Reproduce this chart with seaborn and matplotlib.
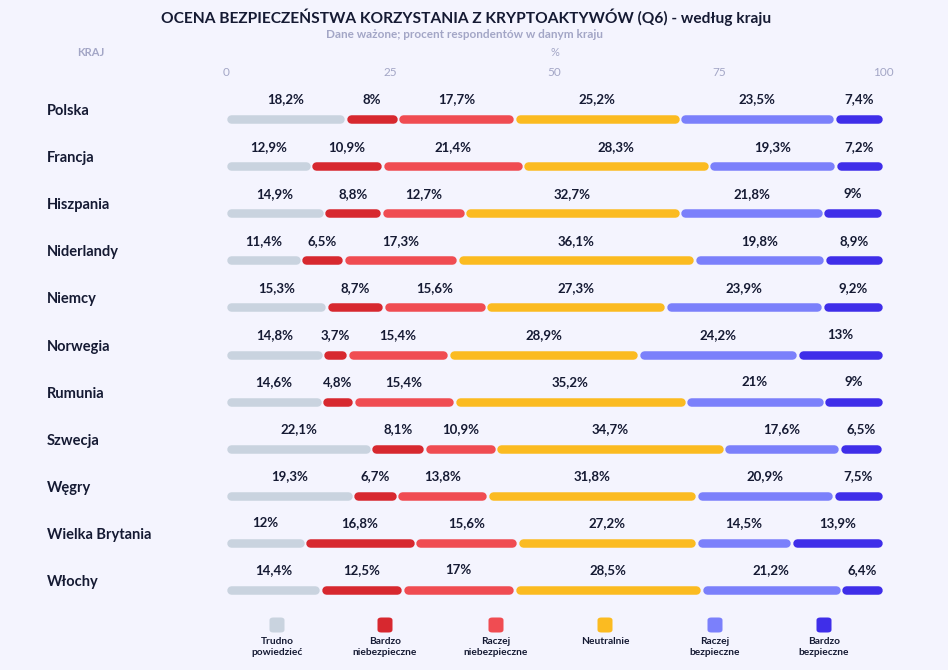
import numpy as np
import seaborn as sns
import matplotlib.pyplot as plt
from matplotlib.patches import FancyBboxPatch
from matplotlib.transforms import blended_transform_factory

countries = ["Polska", "Francja", "Hiszpania", "Niderlandy", "Niemcy", "Norwegia",
             "Rumunia", "Szwecja", "Węgry", "Wielka Brytania", "Włochy"]
categories = ["Trudno\npowiedzieć", "Bardzo\nniebezpieczne", "Raczej\nniebezpieczne",
              "Neutralnie", "Raczej\nbezpieczne", "Bardzo\nbezpieczne"]
trudno = [18.2, 12.9, 14.9, 11.4, 15.3, 14.8, 14.6, 22.1, 19.3, 12.0, 14.4]
b_niebezp = [8.0, 10.9, 8.8, 6.5, 8.7, 3.7, 4.8, 8.1, 6.7, 16.8, 12.5]
r_niebezp = [17.7, 21.4, 12.7, 17.3, 15.6, 15.4, 15.4, 10.9, 13.8, 15.6, 17.0]
neutralnie = [25.2, 28.3, 32.7, 36.1, 27.3, 28.9, 35.2, 34.7, 31.8, 27.2, 28.5]
r_bezp = [23.5, 19.3, 21.8, 19.8, 23.9, 24.2, 21.0, 17.6, 20.9, 14.5, 21.2]
b_bezp = [7.4, 7.2, 9.0, 8.9, 9.2, 13.0, 9.0, 6.5, 7.5, 13.9, 6.4]
ticks = [0, 25, 50, 75, 100]

colors = ["#c9d3df", "#d7282f", "#f04c52", "#fbbb21", "#7b80fb", "#3f2ee9"]
bg = "#f4f4fe"
dark = "#151a33"
muted = "#a3a6c6"

sns.set_theme(style="white")
plt.rcParams["font.family"] = ["Lato", "DejaVu Sans"]

series = np.array([trudno, b_niebezp, r_niebezp, neutralnie, r_bezp, b_bezp])
starts = np.vstack([np.zeros(len(countries)), np.cumsum(series, axis=0)[:-1]])

W, H = 948, 670
fig = plt.figure(figsize=(W / 100, H / 100), dpi=100, facecolor=bg)
# axes: x 0..100 -> px 226..883, rows 0..10 -> px 119..590
step = (590 - 119) / 10
top = 119 - step / 2
bot = 590 + step / 2
ax = fig.add_axes([226 / W, 1 - bot / H, (883 - 226) / W, (bot - top) / H])
ax.set_facecolor(bg)
ax.set_xlim(0, 100)
ax.set_ylim(len(countries) - 0.5, -0.5)
ax.axis("off")

px = 100 / (883 - 226)
lw_pt = 8.5 * 0.72
inset = (4.25 + 1.0) * px
y = np.arange(len(countries))
for k in range(len(categories)):
    x0 = starts[k] + inset
    x1 = starts[k] + series[k] - inset
    ax.hlines(y, x0, x1, colors=colors[k], linewidth=lw_pt, capstyle="round")
    for i in range(len(countries)):
        val = series[k, i]
        txt = f"{val:g}".replace(".", ",") + "%"
        ax.text(starts[k, i] + val / 2, y[i] - 15.5 / step, txt, ha="center", va="baseline",
                fontsize=9.5, fontweight="bold", color=dark)

tr = blended_transform_factory(fig.transFigure, ax.transData)
for i, c in enumerate(countries):
    ax.text(47 / W, y[i] - 4 / step, c, transform=tr, ha="left", va="baseline",
            fontsize=10.5, fontweight="bold", color=dark)

# top scale
trx = blended_transform_factory(ax.transData, fig.transFigure)
for t in ticks:
    ax.text(t, 1 - 72 / H, str(t), transform=trx, ha="center", va="center",
            fontsize=8.5, color=muted)
ax.text(50, 1 - 53 / H, "%", transform=trx, ha="center", va="center", fontsize=8, color=muted)
fig.text(91 / W, 1 - 53 / H, "KRAJ", ha="center", va="center", fontsize=8,
         fontweight="bold", color=muted)

fig.text(466 / W, 1 - 17 / H, "OCENA BEZPIECZEŃSTWA KORZYSTANIA Z KRYPTOAKTYWÓW (Q6) - według kraju",
         ha="center", va="center", fontsize=11.2, fontweight="bold", color=dark)
fig.text(464 / W, 1 - 35 / H, "Dane ważone; procent respondentów w danym kraju",
         ha="center", va="center", fontsize=8.5, fontweight="bold", color=muted)

# legend
leg_x = [277, 385, 496, 605, 715, 824]
for k, lab in enumerate(categories):
    sq = 15
    fig.patches.append(FancyBboxPatch(((leg_x[k] - sq / 2) / W, 1 - (625 + sq / 2) / H),
                                      sq / W, sq / H, boxstyle="round,pad=0,rounding_size=0.004",
                                      transform=fig.transFigure, facecolor=colors[k],
                                      edgecolor="none"))
    fig.text(leg_x[k] / W, 1 - 637 / H, lab, ha="center", va="top", fontsize=7.3,
             fontweight="bold", color=dark, linespacing=1.3)

fig.savefig("out.png", dpi=100, facecolor=bg)
